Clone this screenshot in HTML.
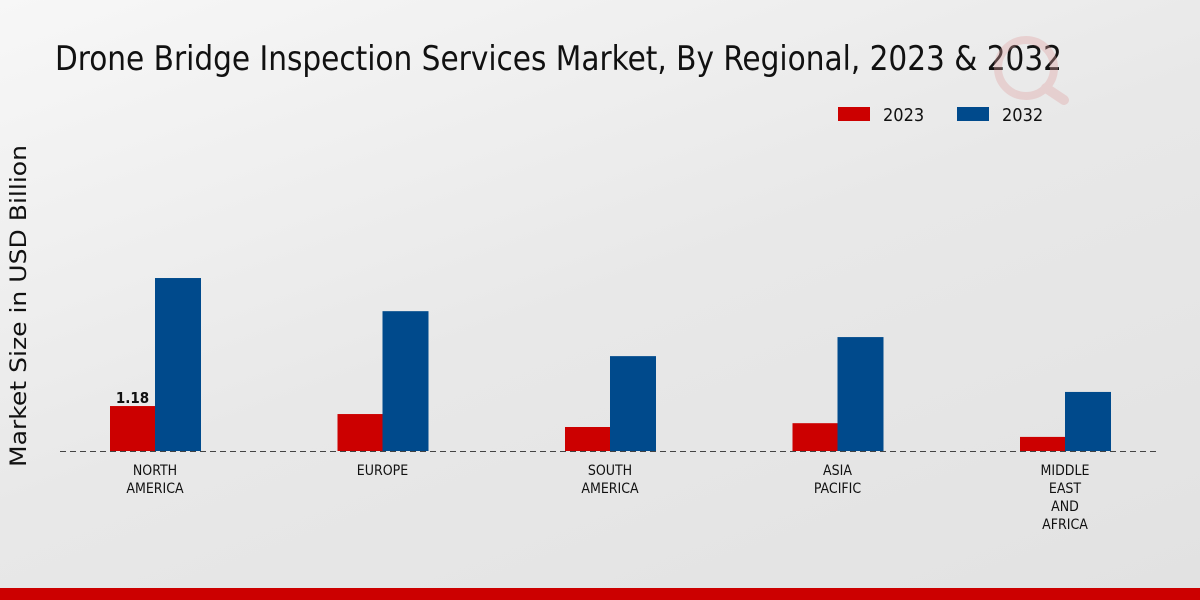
<!DOCTYPE html>
<html><head><meta charset="utf-8"><style>
html,body{margin:0;padding:0;width:1200px;height:600px;overflow:hidden}
body{background:linear-gradient(160deg,#f7f7f7 0%,#e8e8e8 50%,#e2e2e2 100%);font-family:"DejaVu Sans Condensed","Liberation Sans Narrow","Liberation Sans",sans-serif}
</style></head><body>
<svg id="chart" width="1200" height="600" xmlns="http://www.w3.org/2000/svg">
<text x="55" y="70" font-size="34" textLength="1007" lengthAdjust="spacingAndGlyphs" fill="#111" font-family="DejaVu Sans Condensed, Liberation Sans Narrow, sans-serif">Drone Bridge Inspection Services Market, By Regional, 2023 &amp; 2032</text>
<g opacity="0.35">
<circle cx="1026" cy="68" r="28" fill="none" stroke="#e0a0a0" stroke-width="8"/>
<line x1="1046" y1="88" x2="1064" y2="100" stroke="#e0a0a0" stroke-width="10" stroke-linecap="round"/>
</g>
<g>
<rect x="838" y="107" width="32" height="14" fill="#cc0000"/>
<text x="883" y="121" font-size="18" fill="#111">2023</text>
<rect x="957" y="107" width="32" height="14" fill="#004a8c"/>
<text x="1002" y="121" font-size="18" fill="#111">2032</text>
</g>
<text transform="translate(26,306) rotate(-90)" text-anchor="middle" font-size="22" textLength="322" lengthAdjust="spacingAndGlyphs" font-family="DejaVu Sans, sans-serif" fill="#111">Market Size in USD Billion</text>
<line x1="60" y1="451.5" x2="1160" y2="451.5" stroke="#444" stroke-dasharray="6,4"/>
<g id="bars"></g>
<rect x="0" y="588" width="1200" height="12" fill="#cc0000"/>
</svg>
<script>
const categories = [["NORTH","AMERICA"],["EUROPE"],["SOUTH","AMERICA"],["ASIA","PACIFIC"],["MIDDLE","EAST","AND","AFRICA"]];
const values2023 = [1.18, 0.97, 0.63, 0.73, 0.37];
const values2032 = [4.54, 3.67, 2.49, 2.99, 1.55];
const labelIndex = 0;
const NS = "http://www.w3.org/2000/svg";
const baseY = 451, pxPer = 38.1, x0 = 155, step = 227.5, bw = 45;
const yScale = v => baseY - v * pxPer;
const xCenter = i => x0 + i * step;
const g = document.getElementById('bars');
function mk(tag, attrs){const e=document.createElementNS(NS,tag);for(const k in attrs)e.setAttribute(k,attrs[k]);return e;}
categories.forEach((cat,i)=>{
  const c = xCenter(i);
  const r1 = mk('rect',{x:c-bw,y:yScale(values2023[i]),width:bw,height:baseY-yScale(values2023[i]),fill:'#cc0000'});
  
  
  g.appendChild(r1);
  const r2 = mk('rect',{x:c,y:yScale(values2032[i]),width:bw+1,height:baseY-yScale(values2032[i]),fill:'#004a8c'});
  
  
  g.appendChild(r2);
  cat.forEach((line,j)=>{
    const t = mk('text',{x:c,y:475+j*18,'text-anchor':'middle','font-size':'14',fill:'#111'});
    t.textContent = line;
    
    
    g.appendChild(t);
  });
  if(i===labelIndex){
    const v = mk('text',{x:c-bw/2,y:yScale(values2023[i])-3,'text-anchor':'middle','font-size':'15','font-weight':'bold',fill:'#111'});
    v.textContent = values2023[i].toFixed(2);
    
    
    g.appendChild(v);
  }
});
</script>
</body></html>
